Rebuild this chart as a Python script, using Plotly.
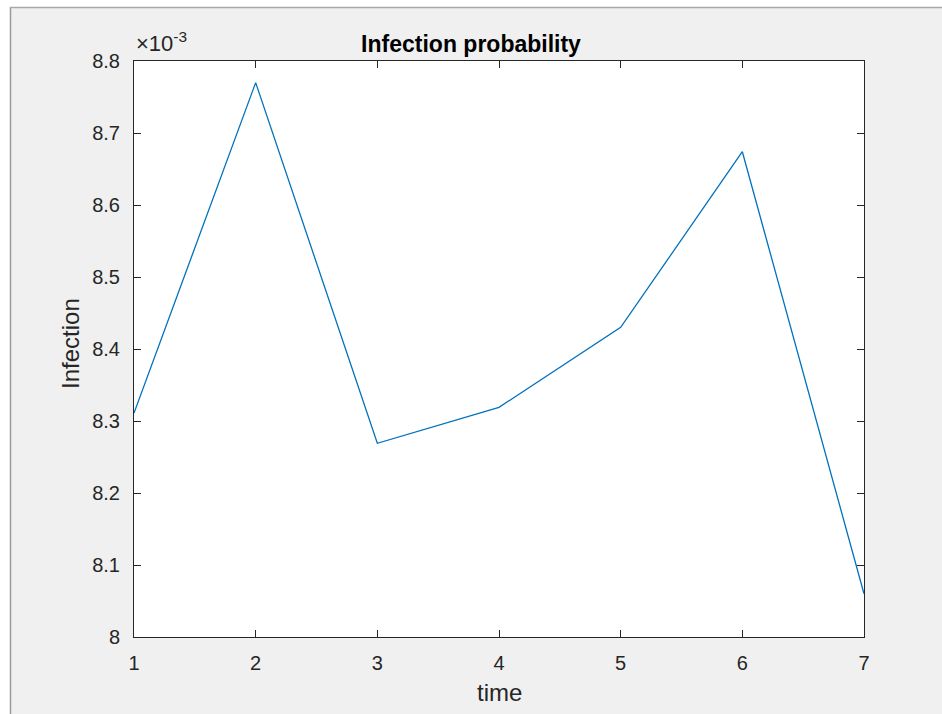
import plotly.graph_objects as go

time = [1, 2, 3, 4, 5, 6, 7]
infection = [0.008311, 0.008770, 0.008269, 0.008319, 0.008430, 0.008674, 0.008060]
y_tickvals = [0.0080, 0.0081, 0.0082, 0.0083, 0.0084, 0.0085, 0.0086, 0.0087, 0.0088]
y_ticktext = ["8", "8.1", "8.2", "8.3", "8.4", "8.5", "8.6", "8.7", "8.8"]
x_tickvals = [1, 2, 3, 4, 5, 6, 7]

W, H = 942, 714
L, R, T, B = 134, 864, 61, 637
pw, ph = R - L, B - T

def px(x):
    return (x - L) / pw

def py(y):
    return (B - y) / ph

FONT = "Liberation Sans, Arial, Helvetica, sans-serif"
AX = "#262626"

fig = go.Figure()
fig.add_trace(go.Scatter(x=time, y=infection, mode="lines",
                         line=dict(color="#0072BD", width=1.3),
                         showlegend=False, hoverinfo="x+y"))

axis_common = dict(showline=True, linecolor=AX, linewidth=1, mirror="ticks",
                   ticks="inside", ticklen=7, tickwidth=1, tickcolor=AX,
                   showgrid=False, zeroline=False,
                   tickfont=dict(family=FONT, size=20, color=AX))

fig.update_layout(
    width=W, height=H,
    margin=dict(l=L, r=W - R, t=T, b=H - B, pad=0),
    paper_bgcolor="#f0f0f0", plot_bgcolor="white",
    xaxis=dict(range=[1, 7], tickvals=x_tickvals, ticklabelstandoff=8, **axis_common),
    yaxis=dict(range=[0.0080, 0.0088], tickvals=y_tickvals, ticktext=y_ticktext,
               ticklabelstandoff=9, **axis_common),
    title=dict(text="<b>Infection probability</b>", x=px(499), xanchor="center",
               y=1 - 44 / H, yanchor="middle",
               font=dict(family=FONT, size=23, color="black")),
)

fig.add_annotation(text="time", xref="paper", yref="paper", x=px(499), y=py(692),
                   xanchor="center", yanchor="middle", showarrow=False,
                   font=dict(family=FONT, size=24, color=AX))
fig.add_annotation(text="Infection", xref="paper", yref="paper", x=px(70), y=py(344),
                   xanchor="center", yanchor="middle", textangle=-90, showarrow=False,
                   font=dict(family=FONT, size=24, color=AX))
fig.add_annotation(text="×10<sup>-3</sup>", xref="paper", yref="paper",
                   x=px(134), y=py(58), xanchor="left", yanchor="bottom",
                   showarrow=False, font=dict(family=FONT, size=22, color=AX))

# figure frame: white strips and grey border lines
fig.add_shape(type="rect", xref="paper", yref="paper", x0=px(-5), x1=px(10), y0=py(720), y1=py(-5),
              fillcolor="white", line=dict(width=0))
fig.add_shape(type="rect", xref="paper", yref="paper", x0=px(-5), x1=px(950), y0=py(7), y1=py(-5),
              fillcolor="white", line=dict(width=0))
fig.add_shape(type="line", xref="paper", yref="paper", x0=px(10.5), x1=px(10.5), y0=py(7), y1=py(720),
              line=dict(color="#9a9a9a", width=1.5))
fig.add_shape(type="line", xref="paper", yref="paper", x0=px(10), x1=px(950), y0=py(7.5), y1=py(7.5),
              line=dict(color="#a8a8a8", width=1.5))

fig.write_html("out.html")
